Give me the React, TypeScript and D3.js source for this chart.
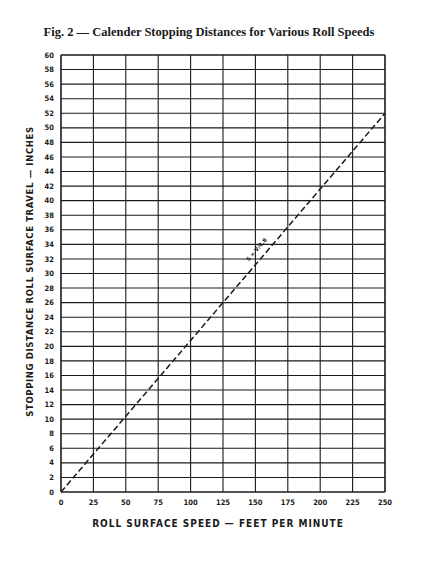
import * as d3 from "d3"

const speedTicks = [0, 25, 50, 75, 100, 125, 150, 175, 200, 225, 250]
const distanceTicks = d3.range(0, 61, 2)
const lineSpeed = [0, 250]
const lineDistance = [0, 52]
const lineLabel = "S = V/4.8"

const W = 429
const H = 572
const margin = { top: 55, right: 44, bottom: 80, left: 61 }

export default function App() {
  const width = W - margin.left - margin.right
  const height = H - margin.top - margin.bottom

  const x = d3.scaleLinear().domain([0, 250]).range([0, width])
  const y = d3.scaleLinear().domain([0, 60]).range([height, 0])

  const points: [number, number][] = lineSpeed.map((s, i) => [s, lineDistance[i]])
  const line = d3.line<[number, number]>()
    .x(d => x(d[0]))
    .y(d => y(d[1]))

  const angle = (Math.atan2(y(0) - y(52), x(250) - x(0)) * 180) / Math.PI
  const lx = x(155)
  const ly = y(155 / 4.8)

  const ink = "#1a1a1a"

  return (
    <svg width={W} height={H} style={{ position: "absolute", left: 0, top: 0, background: "#fff" }}>
      <rect width={W} height={H} fill="#fff" />
      <text x={209} y={36} textAnchor="middle" fontFamily="'Liberation Serif', 'DejaVu Serif', serif"
        fontWeight="bold" fontSize={12.5} fill={ink}>
        Fig. 2 — Calender Stopping Distances for Various Roll Speeds
      </text>
      <g transform={`translate(${margin.left},${margin.top})`}>
        {distanceTicks.map(t => (
          <line key={"h" + t} x1={0} x2={width} y1={y(t)} y2={y(t)} stroke={ink}
            strokeWidth={t === 0 || t === 60 ? 1.6 : 1.1} />
        ))}
        {speedTicks.map(t => (
          <line key={"v" + t} x1={x(t)} x2={x(t)} y1={0} y2={height} stroke={ink}
            strokeWidth={t === 0 || t === 250 ? 1.6 : 1.1} />
        ))}
        {distanceTicks.map(t => (
          <text key={"yl" + t} x={-7} y={y(t)} dy="0.35em" textAnchor="end"
            fontFamily="'DejaVu Sans Condensed', 'DejaVu Sans', sans-serif" fontWeight="bold"
            fontSize={7.5} fill={ink}>{t}</text>
        ))}
        {speedTicks.map(t => (
          <text key={"xl" + t} x={x(t)} y={height + 13} textAnchor="middle"
            fontFamily="'DejaVu Sans Condensed', 'DejaVu Sans', sans-serif" fontWeight="bold"
            fontSize={7.5} fill={ink}>{t}</text>
        ))}
        <path d={line(points) || ""} fill="none" stroke={ink} strokeWidth={1.5} strokeDasharray="6,3" />
        <text transform={`translate(${lx - 4},${ly - 6}) rotate(${-angle})`} textAnchor="middle"
          fontFamily="'DejaVu Sans', sans-serif" fontSize={5.5} fontWeight="bold" fill={ink}>
          {lineLabel}
        </text>
        <text x={width / 2 - 5} y={height + 35} textAnchor="middle"
          fontFamily="'DejaVu Sans Condensed', 'DejaVu Sans', sans-serif" fontWeight="bold"
          fontSize={10} letterSpacing={1} fill={ink}>
          ROLL SURFACE SPEED — FEET PER MINUTE
        </text>
        <text transform={`translate(${-28},${y(30) - 2}) rotate(-90)`} textAnchor="middle"
          fontFamily="'DejaVu Sans Condensed', 'DejaVu Sans', sans-serif" fontWeight="bold"
          fontSize={9.5} letterSpacing={0.6} fill={ink}>
          STOPPING DISTANCE ROLL SURFACE TRAVEL — INCHES
        </text>
      </g>
    </svg>
  )
}
